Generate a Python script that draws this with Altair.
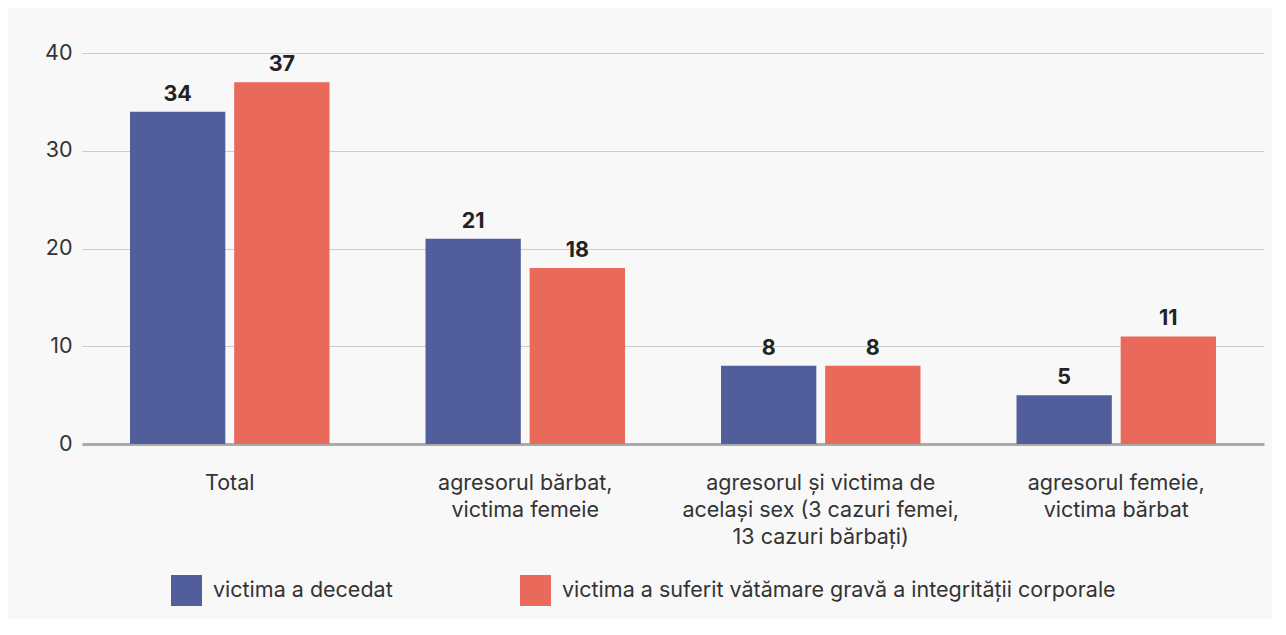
import altair as alt
import pandas as pd

categories = [
    "Total",
    "agresorul bărbat,|victima femeie",
    "agresorul și victima de|același sex (3 cazuri femei,|13 cazuri bărbați)",
    "agresorul femeie,|victima bărbat",
]
series = [
    "victima a decedat",
    "victima a suferit vătămare gravă a integrității corporale",
]
decedat = [34, 21, 8, 5]
vatamare = [37, 18, 8, 11]
colors = ["#525e9b", "#e9695a"]

rows = []
for c, a, b in zip(categories, decedat, vatamare):
    rows.append({"cat": c, "serie": series[0], "val": a})
    rows.append({"cat": c, "serie": series[1], "val": b})
df = pd.DataFrame(rows)

FONT = "Inter"
FS = 21.5

x = alt.X("cat:N", sort=categories, title=None,
          scale=alt.Scale(paddingInner=0.325, paddingOuter=0.1625),
          axis=alt.Axis(labelExpr="split(datum.label, '|')", labelAngle=0,
                        labelLineHeight=27, labelPadding=28, labelBaseline="top",
                        ticks=False, domain=True, domainColor="#aaaaaa", domainWidth=3,
                        labelFontSize=FS, labelColor="#333333", labelFont=FONT,
                        labelLimit=400, grid=False))
xo = alt.XOffset("serie:N", sort=series,
                 scale=alt.Scale(paddingInner=0.085, paddingOuter=0))
y = alt.Y("val:Q", title=None,
          scale=alt.Scale(domain=[0, 40], nice=False),
          axis=alt.Axis(values=[0, 10, 20, 30, 40], ticks=False, domain=False,
                        gridColor="#cccccc", gridWidth=1, labelPadding=10,
                        labelFontSize=FS, labelColor="#333333", labelFont=FONT))

bars = alt.Chart(df).mark_bar().encode(
    x=x, xOffset=xo, y=y,
    color=alt.Color("serie:N", sort=series,
                    scale=alt.Scale(domain=series, range=colors),
                    legend=alt.Legend(title=None, orient="none", legendX=89, legendY=522,
                                      direction="horizontal", columns=2,
                                      symbolType="square", symbolSize=961,
                                      symbolStrokeWidth=0, labelFontSize=FS,
                                      labelFont=FONT, labelColor="#333333",
                                      labelOffset=11, columnPadding=127,
                                      labelLimit=800, padding=0)),
)

labels = alt.Chart(df).mark_text(
    baseline="alphabetic", dy=-11, fontSize=FS, fontWeight="bold",
    color="#222222", font=FONT,
).encode(x=alt.X("cat:N", sort=categories), xOffset=alt.XOffset("serie:N", sort=series),
         y="val:Q", text="val:Q")

chart = alt.layer(bars, labels).properties(
    width=1182, height=391,
    autosize=alt.AutoSizeParams(type="none"),
    padding={"left": 74, "top": 45, "right": 8, "bottom": 175},
    background="#f8f8f8",
).configure_view(stroke=None)

chart.save("out.html", embed_options={"renderer": "svg", "actions": False})
